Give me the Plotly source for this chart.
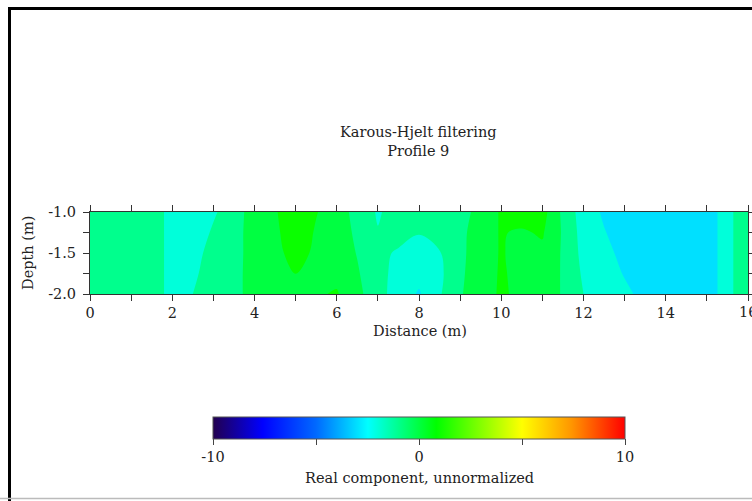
import plotly.graph_objects as go

# Profile 9 grid: distance along the line (m) and depth levels (m)
distance = [0.0, 0.5, 1.0, 1.5, 2.0, 2.5, 3.0, 3.5, 4.0, 4.5, 5.0, 5.5, 6.0, 6.5,
            7.0, 7.5, 8.0, 8.5, 9.0, 9.5, 10.0, 10.5, 11.0, 11.5, 12.0, 12.5,
            13.0, 13.5, 14.0, 14.5, 15.0, 15.25, 15.5, 15.75, 16.0]
depth = [-1.0, -1.25, -1.5, -1.75, -2.0]

# Karous-Hjelt filtered real component, one list per depth level
kh_depth_100 = [-1.0, -1.0, -1.0, -1.2, -1.7, -2.0, -1.6, -1.1, 0.1, 0.4, 1.2, 0.55, 0.0, -0.85,
                -1.6, -1.1, -1.2, -1.0, -0.95, -0.1, 0.6, 0.9, 0.9, -0.73, -2.0, -2.63,
                -3.0, -3.0, -3.0, -3.0, -2.9, -2.52, -1.9, -1.2, -1.0]
kh_depth_125 = [-1.0, -1.0, -1.0, -1.2, -1.7, -1.95, -1.4, -1.0, 0.1, 0.3, 1.1, 0.4, 0.05, -0.7,
                -1.45, -1.2, -1.45, -1.2, -0.85, 0.2, 0.55, 0.4, 0.6, -0.62, -1.9, -2.45,
                -2.9, -3.0, -3.0, -3.0, -2.9, -2.52, -1.9, -1.2, -1.0]
kh_depth_150 = [-1.0, -1.0, -1.0, -1.2, -1.7, -1.85, -1.15, -1.0, 0.1, 0.2, 0.9, 0.3, 0.1, -0.55,
                -1.3, -1.6, -1.9, -1.55, -0.8, 0.2, 0.55, 0.3, 0.3, -0.62, -1.8, -2.3,
                -2.7, -3.0, -3.0, -3.0, -2.9, -2.52, -1.9, -1.2, -1.0]
kh_depth_175 = [-1.0, -1.0, -1.0, -1.2, -1.7, -1.7, -1.0, -0.95, 0.1, 0.1, 0.52, 0.3, 0.25, -0.4,
                -1.2, -1.8, -2.2, -1.7, -0.7, 0.15, 0.58, 0.3, 0.25, -0.62, -1.65, -2.15,
                -2.55, -2.9, -3.0, -3.0, -2.9, -2.52, -1.9, -1.2, -1.0]
kh_depth_200 = [-1.0, -1.0, -1.0, -1.2, -1.7, -1.5, -1.0, -0.95, 0.1, 0.0, 0.2, 0.4, 0.58, -0.25,
                -1.1, -2.0, -2.6, -1.6, -0.6, 0.11, 0.62, 0.3, 0.25, -0.62, -1.5, -2.05,
                -2.35, -2.7, -3.0, -3.0, -2.9, -2.52, -1.9, -1.2, -1.0]

z_rows = [kh_depth_100, kh_depth_125, kh_depth_150, kh_depth_175, kh_depth_200]

# labelled every 2 m; the end label at 16 sits on the page edge and is drawn separately
x_tickvals = list(range(0, 17))
x_ticktext = [str(v) if v % 2 == 0 and v < 16 else "" for v in x_tickvals]
x_end_label = 16
y_tickvals = [-2.0, -1.75, -1.5, -1.25, -1.0]
y_ticktext = ["-2.0", "", "-1.5", "", "-1.0"]
cb_tickvals = [-10, -5, 0, 5, 10]
cb_ticktext = ["-10", "", "0", "", "10"]

rainbow = [
    [0.0, "rgb(34,0,78)"],
    [0.12, "rgb(0,0,255)"],
    [0.25, "rgb(0,105,255)"],
    [0.376, "rgb(0,255,255)"],
    [0.542, "rgb(0,255,0)"],
    [0.75, "rgb(255,255,0)"],
    [0.87, "rgb(255,150,0)"],
    [1.0, "rgb(255,0,0)"],
]

FONT = "DejaVu Serif"
FS = 14.5
TXT = "#222222"

# plot area in pixels: x 90..748, y 212..294
PX_L, PX_R, PX_T, PX_B = 90, 748, 212, 294
PW, PH = PX_R - PX_L, PX_B - PX_T


def px_x(px):
    return (px - PX_L) / PW


def px_y(py):
    return (PX_B - py) / PH


fig = go.Figure()

fig.add_trace(go.Contour(
    x=distance, y=depth, z=z_rows,
    colorscale=rainbow, zmin=-10, zmax=10, zauto=False,
    contours=dict(start=-9.5, end=9.5, size=1, coloring="fill", showlines=False),
    line=dict(width=0),
    showscale=False,
    hoverinfo="skip",
))

# continuous colour bar for the -10..10 scale
fig.add_trace(go.Scatter(
    x=[None], y=[None], mode="markers", showlegend=False, hoverinfo="skip",
    marker=dict(
        color=[0], colorscale=rainbow, cmin=-10, cmax=10, showscale=True,
        colorbar=dict(
            orientation="h", x=px_x(419), xanchor="center", y=px_y(417), yanchor="top",
            len=412 / PW, lenmode="fraction", thickness=22, xpad=0, ypad=0,
            outlinewidth=1, outlinecolor="#555555",
            ticks="outside", ticklen=6, tickcolor="#444444",
            tickvals=cb_tickvals, ticktext=cb_ticktext,
            tickfont=dict(family=FONT, size=FS, color=TXT),
        ),
    ),
))

axis_common = dict(
    showline=True, linecolor="#333333", linewidth=1, mirror="ticks",
    ticks="outside", ticklen=6, tickcolor="#333333", showgrid=False, zeroline=False,
    automargin=False,
    tickfont=dict(family=FONT, size=FS, color=TXT),
)

fig.update_xaxes(range=[0, 16], tickvals=x_tickvals, ticktext=x_ticktext, **axis_common)
fig.update_yaxes(range=[-2, -1], tickvals=y_tickvals, ticktext=y_ticktext,
                 ticklabelstandoff=4, **axis_common)

fig.update_layout(
    width=752, height=501,
    margin=dict(l=PX_L, r=752 - PX_R, t=PX_T, b=501 - PX_B, pad=0, autoexpand=False),
    paper_bgcolor="white", plot_bgcolor="white",
    showlegend=False,
    annotations=[
        dict(text="Karous-Hjelt filtering<br>Profile 9", xref="paper", yref="paper",
             x=px_x(418), y=px_y(141), xanchor="center", yanchor="middle",
             showarrow=False, font=dict(family=FONT, size=FS, color=TXT)),
        dict(text=str(x_end_label), xref="x", yref="paper",
             x=x_end_label, y=px_y(312), xanchor="center", yanchor="middle",
             showarrow=False, font=dict(family=FONT, size=FS, color=TXT)),
        dict(text="Distance (m)", xref="paper", yref="paper",
             x=px_x(420), y=px_y(331), xanchor="center", yanchor="middle",
             showarrow=False, font=dict(family=FONT, size=FS, color=TXT)),
        dict(text="Depth (m)", xref="paper", yref="paper", textangle=-90,
             x=px_x(28), y=0.5, xanchor="center", yanchor="middle",
             showarrow=False, font=dict(family=FONT, size=FS, color=TXT)),
        dict(text="Real component, unnormalized", xref="paper", yref="paper",
             x=px_x(419), y=px_y(478), xanchor="center", yanchor="middle",
             showarrow=False, font=dict(family=FONT, size=FS, color=TXT)),
    ],
    shapes=[
        # outer frame: black on the left and top, light rule at the bottom
        dict(type="line", xref="paper", yref="paper",
             x0=px_x(9.5), x1=px_x(9.5), y0=px_y(7), y1=px_y(501),
             line=dict(color="black", width=3)),
        dict(type="line", xref="paper", yref="paper",
             x0=px_x(8), x1=px_x(760), y0=px_y(8.5), y1=px_y(8.5),
             line=dict(color="black", width=3)),
        dict(type="line", xref="paper", yref="paper",
             x0=px_x(0), x1=px_x(760), y0=px_y(498.5), y1=px_y(498.5),
             line=dict(color="#bbbbbb", width=1.5)),
    ],
)

fig.write_html("out.html")
